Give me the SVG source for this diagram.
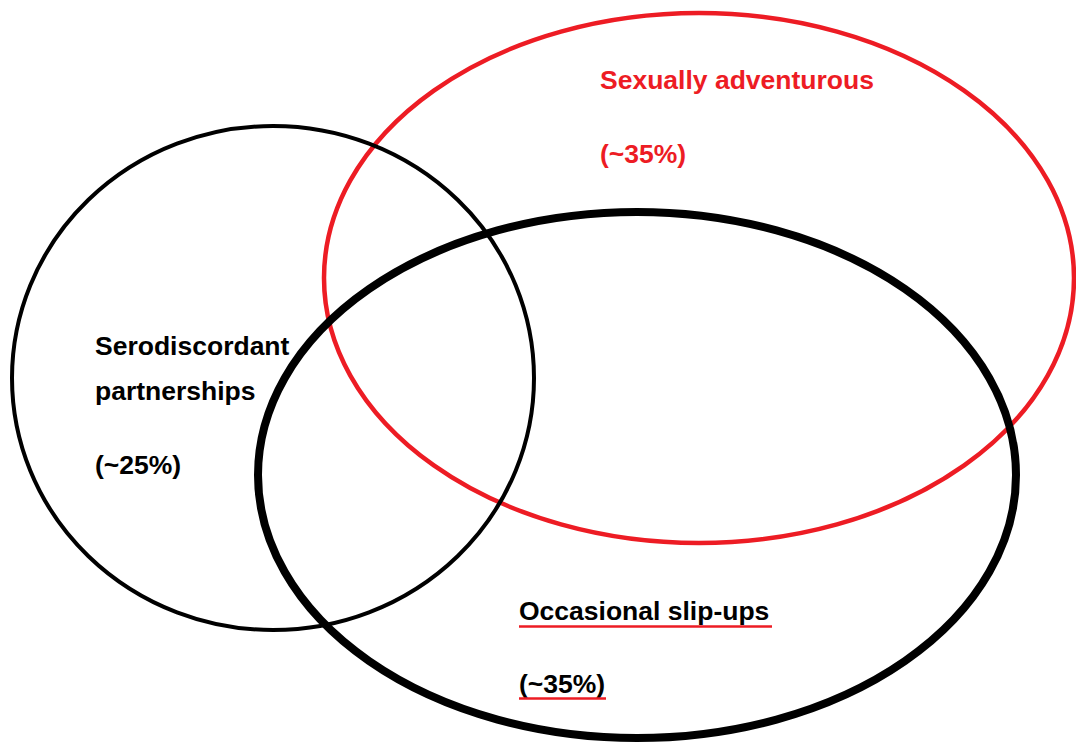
<svg xmlns="http://www.w3.org/2000/svg" width="1076" height="747" viewBox="0 0 1076 747">
<style>
.t{font-family:"Liberation Sans",Arial,sans-serif;font-weight:bold;font-size:26.5px;fill:#000}
.r{fill:#ed1c24}
.u{stroke:#ed1c24;stroke-width:2.5}
</style>
<rect width="1076" height="747" fill="#fff"/>
<g id="sexually-adventurous">
<ellipse cx="699" cy="278" rx="375" ry="265" fill="none" stroke="#ed1c24" stroke-width="4.5"/>
<text class="t r" x="600" y="89">Sexually adventurous</text>
<text class="t r" x="600" y="163">(~35%)</text>
</g>
<g id="serodiscordant">
<ellipse cx="273" cy="378" rx="261" ry="252" fill="none" stroke="#000" stroke-width="4"/>
<text class="t" x="95" y="355">Serodiscordant</text>
<text class="t" x="95" y="400">partnerships</text>
<text class="t" x="95" y="474">(~25%)</text>
</g>
<g id="occasional-slip-ups">
<ellipse cx="637" cy="475" rx="379" ry="263" fill="none" stroke="#000" stroke-width="8"/>
<text class="t" x="519" y="620">Occasional slip-ups</text>
<line class="u" x1="519" y1="626.5" x2="772" y2="626.5"/>
<text class="t" x="519" y="693">(~35%)</text>
<line class="u" x1="519" y1="698.5" x2="606" y2="698.5"/>
</g>
<g id="connectors"></g>
</svg>
